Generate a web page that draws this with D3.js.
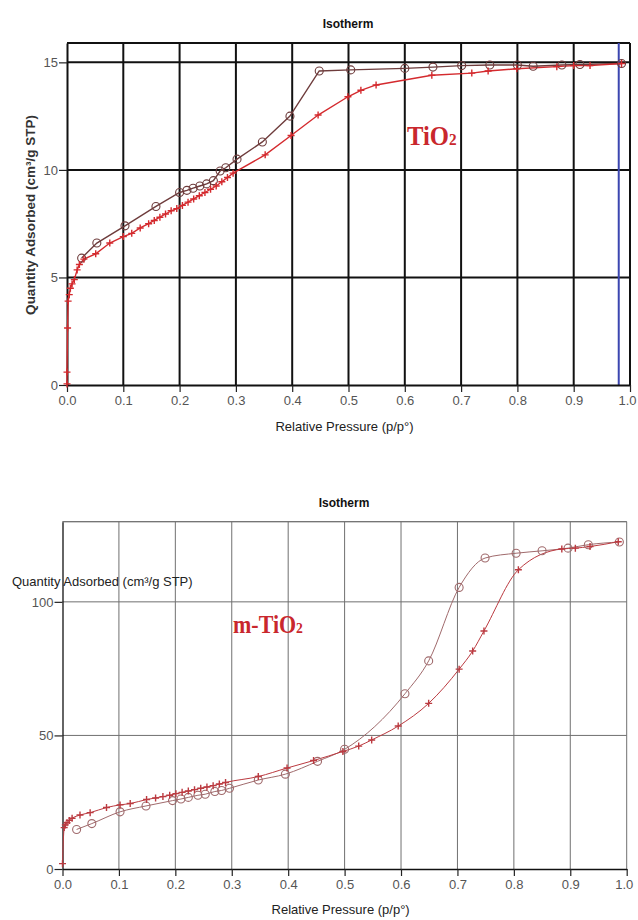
<!DOCTYPE html>
<html>
<head>
<meta charset="utf-8">
<script src="https://cdn.jsdelivr.net/npm/d3@7"></script>
<style>
  body { margin: 0; background: #fff; }
  svg { display: block; font-family: Arial, 'Liberation Sans', sans-serif; }
</style>
</head>
<body>
<svg id="chart" width="638" height="920"></svg>
<script>
// TiO2 panel (top)
const tAdsX = [0.000, 0.000, 0.001, 0.002, 0.004, 0.006, 0.009, 0.013, 0.018, 0.022, 0.030, 0.051, 0.076, 0.100, 0.115, 0.130, 0.145, 0.155, 0.165, 0.175, 0.185, 0.195, 0.205, 0.215, 0.225, 0.235, 0.245, 0.255, 0.265, 0.275, 0.285, 0.295, 0.352, 0.398, 0.446, 0.499, 0.522, 0.549, 0.648, 0.719, 0.748, 0.799, 0.870, 0.900, 0.929, 0.985];
const tAdsY = [0.05, 0.6, 2.65, 3.9, 4.2, 4.5, 4.7, 4.9, 5.35, 5.6, 5.85, 6.1, 6.6, 6.9, 7.05, 7.3, 7.5, 7.65, 7.8, 7.95, 8.1, 8.2, 8.35, 8.5, 8.65, 8.8, 8.95, 9.1, 9.25, 9.45, 9.65, 9.85, 10.7, 11.6, 12.55, 13.4, 13.7, 13.95, 14.4, 14.5, 14.6, 14.7, 14.8, 14.85, 14.85, 14.95];
const tDesX = [0.026, 0.053, 0.103, 0.158, 0.200, 0.213, 0.224, 0.236, 0.248, 0.260, 0.272, 0.282, 0.302, 0.347, 0.396, 0.448, 0.504, 0.600, 0.650, 0.701, 0.751, 0.800, 0.828, 0.879, 0.911, 0.985];
const tDesY = [5.9, 6.6, 7.4, 8.3, 8.95, 9.05, 9.15, 9.25, 9.35, 9.5, 9.95, 10.1, 10.5, 11.3, 12.5, 14.6, 14.65, 14.72, 14.78, 14.85, 14.88, 14.88, 14.82, 14.88, 14.9, 14.95];
const tYTicks = [0, 5, 10, 15];

// m-TiO2 panel (bottom)
const bAdsX = [0.000, 0.003, 0.005, 0.008, 0.012, 0.017, 0.031, 0.049, 0.078, 0.102, 0.120, 0.149, 0.165, 0.178, 0.190, 0.201, 0.212, 0.223, 0.234, 0.245, 0.256, 0.267, 0.278, 0.289, 0.347, 0.398, 0.445, 0.497, 0.525, 0.548, 0.595, 0.649, 0.703, 0.727, 0.747, 0.808, 0.885, 0.909, 0.935, 0.985];
const bAdsY = [2, 15.5, 16.5, 17.3, 18.2, 19, 20.2, 21.1, 23, 24, 24.5, 26, 26.6, 27.1, 27.6, 28.2, 28.7, 29.2, 29.7, 30.2, 30.7, 31.2, 31.8, 32.4, 34.6, 37.8, 40.6, 44, 46, 48.3, 53.5, 62, 74.8, 81.6, 89.1, 112, 119.8, 120.1, 120.7, 122.5];
const bDesX = [0.025, 0.052, 0.102, 0.148, 0.195, 0.210, 0.223, 0.240, 0.253, 0.270, 0.282, 0.296, 0.347, 0.395, 0.452, 0.500, 0.607, 0.649, 0.703, 0.749, 0.804, 0.850, 0.896, 0.932, 0.987];
const bDesY = [14.8, 17, 21.4, 23.6, 25.6, 26.2, 26.8, 27.6, 28, 29, 29.4, 30.2, 33.3, 35.5, 40.3, 44.8, 65.6, 77.9, 105.4, 116.4, 118.2, 119.1, 120.1, 121.4, 122.4];
const bYTicks = [0, 50, 100];

const xTicks = d3.range(0, 11).map(i => i / 10);
const xMinor = d3.range(0, 51).map(i => i / 50);

const svg = d3.select('#chart');

drawPanel({
    left: 67, right: 630, top: 43, bottom: 385, yMax: 15.9,
    yTicks: tYTicks, yMinorStep: 1, yGrid: [5, 10, 15],
    grid: '#111', gridW: 2, axisW: 2,
    curve: d3.curveLinear,
    ads: zip(tAdsX, tAdsY), des: zip(tDesX, tDesY),
    adsColor: '#d42a2e', desColor: '#6e3c3c', lineW: 1.4,
    title: 'Isotherm', titleX: 348, titleY: 28,
    xLabelY: 431, blueLine: 0.98
});

drawPanel({
    left: 62.5, right: 626.7, top: 521.7, bottom: 869, yMax: 130,
    yTicks: bYTicks, yMinorStep: 10, yGrid: [50, 100, 130],
    grid: '#707070', gridW: 1, axisW: 1.3,
    curve: d3.curveMonotoneX,
    ads: zip(bAdsX, bAdsY), des: zip(bDesX, bDesY),
    adsColor: '#bb3a40', desColor: '#a06a6c', lineW: 1,
    title: 'Isotherm', titleX: 344, titleY: 507,
    xLabelY: 914
});

// y labels
svg.append('text')
    .attr('transform', 'translate(35,215) rotate(-90)')
    .attr('text-anchor', 'middle')
    .attr('font-size', 13.5)
    .attr('font-weight', 'bold')
    .attr('fill', '#333')
    .text('Quantity Adsorbed (cm³/g STP)');

svg.append('text')
    .attr('x', 12).attr('y', 586)
    .attr('font-size', 13)
    .attr('fill', '#222')
    .text('Quantity Adsorbed (cm³/g STP)');

// sample names
sampleLabel(407, 145, 28, 'TiO', '2');
sampleLabel(233, 633, 25, 'm-TiO', '2');

function zip(xs, ys) {
    return xs.map((v, i) => [v, ys[i]]);
}

function sampleLabel(x, y, size, main, sub) {
    let t = svg.append('text')
        .attr('transform', `translate(${x},${y}) scale(0.88,1)`)
        .style('font-family', "'Liberation Serif', 'Times New Roman', serif")
        .attr('font-size', size)
        .attr('font-weight', 'bold')
        .attr('fill', '#c9272d');
    t.append('tspan').text(main);
    t.append('tspan').attr('font-size', size * 0.62).text(sub);
}

function drawPanel(p) {
    let x = d3.scaleLinear().domain([0, 1]).range([p.left, p.right]);
    let y = d3.scaleLinear().domain([0, p.yMax]).range([p.bottom, p.top]);
    let g = svg.append('g');

    // vertical grid
    g.append('g').selectAll('line')
        .data(xTicks.slice(1))
        .join('line')
        .attr('x1', d => x(d)).attr('x2', d => x(d))
        .attr('y1', y(p.yMax)).attr('y2', y(0))
        .attr('stroke', p.grid).attr('stroke-width', p.gridW);

    // horizontal grid
    g.append('g').selectAll('line')
        .data(p.yGrid)
        .join('line')
        .attr('x1', x(0)).attr('x2', x(1))
        .attr('y1', d => y(Math.min(d, p.yMax))).attr('y2', d => y(Math.min(d, p.yMax)))
        .attr('stroke', p.grid).attr('stroke-width', p.gridW);
    // top frame
    g.append('line')
        .attr('x1', x(0)).attr('x2', x(1))
        .attr('y1', y(p.yMax)).attr('y2', y(p.yMax))
        .attr('stroke', p.grid).attr('stroke-width', p.gridW);

    if (p.blueLine) {
        g.append('line')
            .attr('x1', x(p.blueLine)).attr('x2', x(p.blueLine))
            .attr('y1', y(p.yMax)).attr('y2', y(0))
            .attr('stroke', '#3b46b0').attr('stroke-width', 2);
    }

    // x axis
    let xa = g.append('g').attr('transform', `translate(0,${y(0)})`);
    xa.call(d3.axisBottom(x).tickValues(xMinor).tickSize(5).tickSizeOuter(0).tickFormat(''));
    xa.call(d3.axisBottom(x).tickValues(xTicks).tickSize(7).tickSizeOuter(0)
        .tickPadding(4).tickFormat(d3.format('.1f')));
    styleAxis(xa, p);
    // keep the last label inside the page
    xa.selectAll('.tick text').filter(d => d === 1).attr('dx', -3);

    // y axis
    let ya = g.append('g').attr('transform', `translate(${x(0)},0)`);
    ya.call(d3.axisLeft(y).tickValues(d3.range(0, p.yMax, p.yMinorStep)).tickSize(5).tickSizeOuter(0).tickFormat(''));
    ya.call(d3.axisLeft(y).tickValues(p.yTicks).tickSize(8).tickSizeOuter(0).tickPadding(1));
    styleAxis(ya, p);

    // curves
    let line = d3.line().x(d => x(d[0])).y(d => y(d[1])).curve(p.curve);
    g.append('path').datum(p.des)
        .attr('d', line).attr('fill', 'none')
        .attr('stroke', p.desColor).attr('stroke-width', p.lineW);
    g.append('path').datum(p.ads)
        .attr('d', line).attr('fill', 'none')
        .attr('stroke', p.adsColor).attr('stroke-width', p.lineW);

    g.append('g').selectAll('circle')
        .data(p.des)
        .join('circle')
        .attr('cx', d => x(d[0])).attr('cy', d => y(d[1]))
        .attr('r', 4)
        .attr('fill', 'none')
        .attr('stroke', p.desColor).attr('stroke-width', 1.1);

    g.append('g').selectAll('path')
        .data(p.ads)
        .join('path')
        .attr('transform', d => `translate(${x(d[0])},${y(d[1])})`)
        .attr('d', 'M-3.5,0H3.5M0,-3.5V3.5')
        .attr('stroke', p.adsColor).attr('stroke-width', 1.4);

    // titles
    g.append('text')
        .attr('x', p.titleX).attr('y', p.titleY)
        .attr('text-anchor', 'middle')
        .attr('font-size', 12).attr('font-weight', 'bold')
        .attr('fill', '#111')
        .text(p.title);

    g.append('text')
        .attr('x', (p.left + p.right) / 2 - 4).attr('y', p.xLabelY)
        .attr('text-anchor', 'middle')
        .attr('font-size', 13)
        .attr('fill', '#222')
        .text('Relative Pressure (p/p°)');
}

function styleAxis(sel, p) {
    sel.attr('font-family', null);
    sel.select('.domain').attr('stroke', '#111').attr('stroke-width', p.axisW);
    sel.selectAll('.tick line').attr('stroke', '#222').attr('stroke-width', 1.2);
    sel.selectAll('.tick text')
        .attr('font-size', 13)
        .attr('fill', '#555');
}
</script>
</body>
</html>
